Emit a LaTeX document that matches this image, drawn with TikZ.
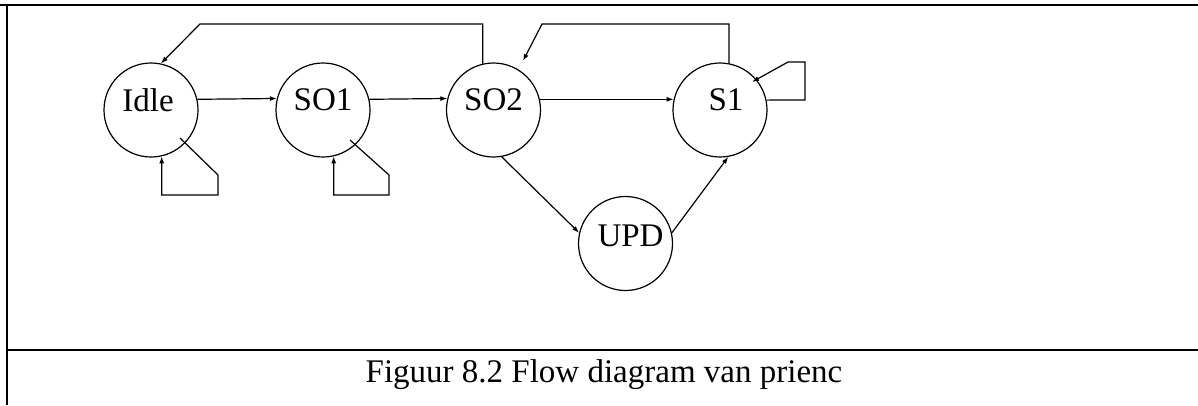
\documentclass[tikz,border=0pt]{standalone}
\usepackage{fontspec}
\setmainfont{Liberation Serif}
\usetikzlibrary{arrows.meta}
\begin{document}
\begin{tikzpicture}[x=1pt,y=-1pt,
  state/.style={draw,circle,minimum size=94pt,inner sep=0pt,line width=1.2pt},
  lbl/.style={font=\fontsize{33}{40}\selectfont,yshift=10pt,inner sep=0pt},
  arr/.style={line width=1.2pt,-{Latex[length=7pt,width=5pt]}},
  frame/.style={line width=1.8pt}]
\useasboundingbox (0,0) rectangle (1198,405);
% frame
\coordinate (tl) at (0,5);
\coordinate (tr) at (1198,5);
\coordinate (ltop) at (7,5);
\coordinate (lbot) at (7,405);
\coordinate (bl) at (7,350);
\coordinate (br) at (1198,350);
\draw[frame] (tl) -- (tr);
\draw[frame] (ltop) -- (lbot);
\draw[frame] (bl) -- (br);
% states
\node[state,label={[lbl,xshift=-3pt]center:Idle}] (idle) at (151,110) {};
\node[state,label={[lbl]center:SO1}] (so1) at (323,110) {};
\node[state,label={[lbl]center:SO2}] (so2) at (493.5,110) {};
\node[state,label={[lbl,xshift=6pt]center:S1}] (s1) at (720,110) {};
\node[state,label={[lbl,yshift=-2pt,xshift=5pt]center:UPD}] (upd) at (625.5,243.5) {};
% straight transitions
\draw[arr] (idle.13.5) -- (so1.166.5);
\draw[arr] (so1.13.5) -- (so2.166.5);
\draw[arr] (so2.13) -- (s1.167);
\draw[arr] (so2.-80) -- (upd.167);
\draw[arr] (upd.13) -- (s1.-80);
% SO2 back to Idle
\coordinate (c1) at (200,24);
\draw[arr] (so2.103) |- (c1) -- (idle.78);
% S1 back to SO2
\coordinate (c2) at (542,24);
\coordinate (c3) at (523,61);
\draw[arr] (s1.79) |- (c2) -- (c3);
% S1 self loop
\coordinate (s1a) at (805,100);
\coordinate (s1b) at (805,62);
\coordinate (s1c) at (788,62);
\coordinate (s1d) at (752,82);
\draw[arr] (s1.12) -- (s1a) -- (s1b) -- (s1c) -- (s1d);
% Idle self loop
\coordinate (ia) at (180,138);
\coordinate (ib) at (218,175);
\coordinate (ic) at (218,195);
\draw[arr] (ia) -- (ib) -- (ic) -| (idle.-77);
% SO1 self loop
\coordinate (sa) at (350,140);
\coordinate (sb) at (389,175);
\coordinate (sc) at (389,195);
\draw[arr] (sa) -- (sb) -- (sc) -| (so1.-77);
% caption
\node[font=\fontsize{33}{40}\selectfont,anchor=base,inner sep=0pt] (cap) at (604,382) {Figuur 8.2 Flow diagram van prienc};
\end{tikzpicture}
\end{document}
